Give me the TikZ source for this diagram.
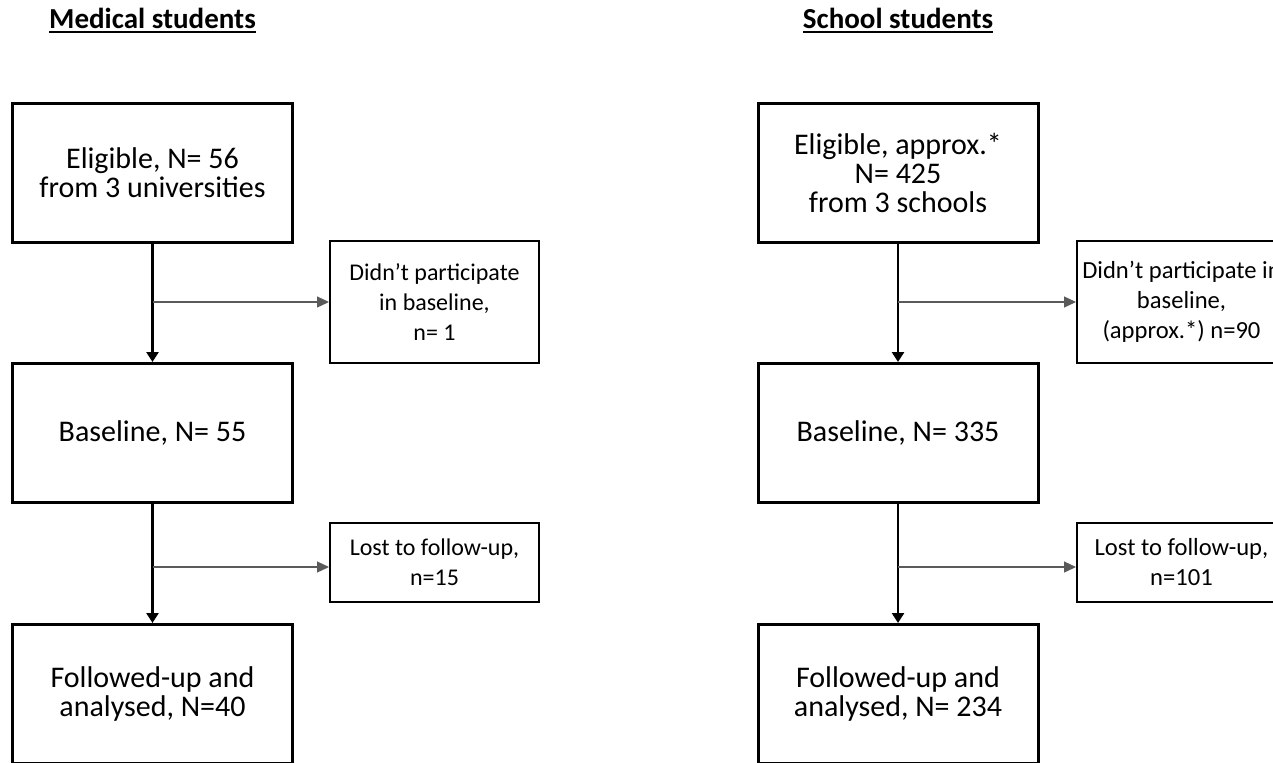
\documentclass[tikz,border=0pt]{standalone}
\usepackage{fontspec}
\setmainfont{Carlito}
\usetikzlibrary{arrows.meta,positioning}
\definecolor{FlowBlack}{RGB}{0,0,0}
\definecolor{LinkGray}{RGB}{90,90,90}
\newcommand{\headrule}[1]{\setbox0\hbox{#1}\leavevmode\rlap{\rule[-2.6pt]{\wd0}{1pt}}\box0}

\begin{document}
\begin{tikzpicture}[
        x=0.5pt,y=-0.5pt,
        every node/.style={align=center,inner sep=0pt},
        headNode/.style={anchor=base,font=\fontsize{14.5}{16}\selectfont\bfseries},
        mainBox/.style={draw=FlowBlack,line width=1.5pt,minimum width=140pt,minimum height=69.5pt,
          font=\fontsize{15}{14.5}\selectfont},
        sideBox/.style={draw=FlowBlack,line width=1pt,minimum width=104.5pt,
          font=\fontsize{12}{15}\selectfont},
        wideText/.style={font=\fontsize{12.3}{15}\selectfont},
        downArrow/.style={draw=FlowBlack,line width=1.3pt,-{Triangle[length=5pt,width=6pt]}},
        sideArrow/.style={draw=LinkGray,line width=0.6pt,-{Triangle[length=6pt,width=5.5pt]}}]
        \useasboundingbox (0,0) rectangle (1273,762);
        \clip (0,0) rectangle (1273,762);
        % medical students
        \node[headNode] (mHead) at (152.5,28) {\headrule{Medical students}};
        \node[mainBox] (mElig) at (152.5,172.5) {Eligible, N= 56\\from 3 universities};
        \node[mainBox] (mBase) at (152.5,433) {Baseline, N= 55};
        \node[mainBox] (mFoll) at (152.5,694) {Followed-up and\\analysed, N=40};
        \node[sideBox,minimum height=61pt] (mSkip) at (434.5,302) {Didn’t participate\\in baseline,\\n= 1};
        \node[sideBox,minimum height=39.5pt] (mLost) at (434.5,562.5) {Lost to follow-up,\\n=15};
        \coordinate (mJoin1) at (152.5,302);
        \coordinate (mJoin2) at (152.5,567);
        \draw[downArrow] (mElig) -- (mBase);
        \draw[downArrow] (mBase) -- (mFoll);
        \draw[sideArrow] (mJoin1) -- (mSkip);
        \draw[sideArrow] (mJoin2) -- (mJoin2 -| mLost.west);
        % school students
        \node[headNode] (sHead) at (898,28) {\headrule{School students}};
        \node[mainBox] (sElig) at (898,172.5) {Eligible, approx.*\\N= 425\\from 3 schools};
        \node[mainBox] (sBase) at (898,433) {Baseline, N= 335};
        \node[mainBox] (sFoll) at (898,694) {Followed-up and\\analysed, N= 234};
        \node[sideBox,wideText,minimum height=61pt] (sSkip) at (1181.5,302) {Didn’t participate in\\baseline,\\(approx.*) n=90};
        \node[sideBox,wideText,minimum height=39.5pt] (sLost) at (1181.5,562.5) {Lost to follow-up,\\n=101};
        \coordinate (sJoin1) at (898,302);
        \coordinate (sJoin2) at (898,567);
        \draw[downArrow] (sElig) -- (sBase);
        \draw[downArrow] (sBase) -- (sFoll);
        \draw[sideArrow] (sJoin1) -- (sSkip);
        \draw[sideArrow] (sJoin2) -- (sJoin2 -| sLost.west);
      \end{tikzpicture}
\end{document}
